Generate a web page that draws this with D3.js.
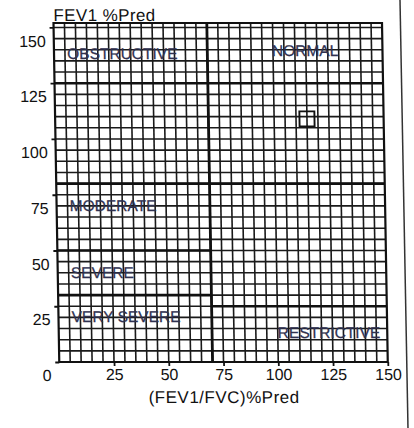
<!DOCTYPE html>
<html>
<head>
<meta charset="utf-8">
<script src="https://cdn.jsdelivr.net/npm/d3@7"></script>
<style>
  html, body { margin: 0; padding: 0; background: #fff; }
  svg { display: block; }
  text { font-family: "Liberation Sans", Arial, sans-serif; }
</style>
</head>
<body>
<svg id="chart" width="414" height="428"></svg>
<script>
// ---- data ----
const xTicks = [25, 50, 75, 100, 125, 150];
const yTicks = [0, 25, 50, 75, 100, 125, 150];
const xTitle = "(FEV1/FVC)%Pred";
const yTitle = "FEV1 %Pred";
const regionNames = ["OBSTRUCTIVE", "NORMAL", "MODERATE", "SEVERE", "VERY SEVERE", "RESTRICTIVE"];
const regionX = [6, 99.5, 6, 6, 6, 100];
const regionY = [136, 137, 67.5, 37.5, 18, 10.7];
const boundaryX = [70];
const boundaryY = [125, 80, 50, 30, 25];
const boundaryFrom = [0, 0, 0, 0, 70];
const boundaryTo = [150, 150, 70, 70, 150];
const pointX = [115];
const pointY = [109];

// ---- layout ----
const svg = d3.select("#chart");
const xMax = 150, yMax = 152;
const x = d3.scaleLinear().domain([0, 150]).range([53.5, 382]);
const y = d3.scaleLinear().domain([0, yMax]).range([362, 23]);
const skew = 0.017;
const g = svg.append("g")
  .attr("transform", `translate(${-skew * 23},0) skewX(${Math.atan(skew) * 180 / Math.PI})`);

const ink = "#1a1a1a";

// minor grid
const minorX = d3.range(5, xMax, 5);
const minorY = d3.range(5, 151, 5);
g.append("g").selectAll("line").data(minorX).join("line")
  .attr("x1", d => x(d)).attr("x2", d => x(d))
  .attr("y1", y(0)).attr("y2", y(yMax))
  .attr("stroke", ink).attr("stroke-width", 1.6);
g.append("g").selectAll("line").data(minorY).join("line")
  .attr("y1", d => y(d)).attr("y2", d => y(d))
  .attr("x1", x(0)).attr("x2", x(xMax))
  .attr("stroke", ink).attr("stroke-width", 1.6);

// boundaries
g.append("g").selectAll("line").data(boundaryX).join("line")
  .attr("x1", d => x(d)).attr("x2", d => x(d))
  .attr("y1", y(0)).attr("y2", y(yMax))
  .attr("stroke", "#111").attr("stroke-width", 2.8);
g.append("g").selectAll("line").data(boundaryY).join("line")
  .attr("y1", d => y(d)).attr("y2", d => y(d))
  .attr("x1", (d, i) => x(boundaryFrom[i])).attr("x2", (d, i) => x(boundaryTo[i]))
  .attr("stroke", "#111").attr("stroke-width", 2.6);

// border
g.append("rect")
  .attr("x", x(0)).attr("y", y(yMax))
  .attr("width", x(xMax) - x(0)).attr("height", y(0) - y(yMax))
  .attr("fill", "none").attr("stroke", "#111").attr("stroke-width", 2.2);

// axes
const ax = g.append("g").attr("transform", `translate(0,${y(0)})`)
  .call(d3.axisBottom(x).tickValues(xTicks).tickSize(4).tickFormat(d3.format("d")));
ax.select(".domain").remove();
ax.selectAll(".tick line").attr("stroke", "#111").attr("stroke-width", 1.8);
ax.selectAll(".tick text").attr("y", 7).attr("dy", "0.71em")
  .attr("font-size", 16).attr("fill", "#111")
  .style("font-family", "'Liberation Sans', Arial, sans-serif");

const ay = g.append("g").attr("transform", `translate(${x(0)},0)`)
  .call(d3.axisLeft(y).tickValues(yTicks).tickSize(4).tickFormat(d3.format("d")));
ay.select(".domain").remove();
ay.selectAll(".tick line").attr("stroke", "#111").attr("stroke-width", 1.8);
ay.selectAll(".tick text").attr("x", -8).attr("dy", "1.16em")
  .attr("font-size", 16).attr("fill", "#111")
  .style("font-family", "'Liberation Sans', Arial, sans-serif");

// region labels
g.append("g").selectAll("text").data(regionNames).join("text")
  .attr("x", (d, i) => x(regionX[i]))
  .attr("y", (d, i) => y(regionY[i]))
  .attr("font-size", 15.5)
  .attr("fill", "#2f3150")
  .attr("stroke", "#2f3150").attr("stroke-width", 0.25)
  .text(d => d);

// point marker
g.append("g").selectAll("rect").data(pointX).join("rect")
  .attr("x", (d, i) => x(d) - 7.5)
  .attr("y", (d, i) => y(pointY[i]) - 7.5)
  .attr("width", 15).attr("height", 15)
  .attr("fill", "none").attr("stroke", "#111").attr("stroke-width", 1.9);

// titles
g.append("text")
  .attr("x", x(0)).attr("y", 21)
  .attr("font-size", 17).attr("letter-spacing", 0.4).attr("fill", "#111")
  .text(yTitle);
g.append("text")
  .attr("x", (x(0) + x(xMax)) / 2).attr("y", 403)
  .attr("text-anchor", "middle")
  .attr("font-size", 17).attr("letter-spacing", 0.5).attr("fill", "#111")
  .text(xTitle);

// scanned page edge on the right
svg.append("line")
  .attr("x1", 400).attr("y1", 0).attr("x2", 408).attr("y2", 428)
  .attr("stroke", "#333").attr("stroke-width", 1.5);
</script>
</body>
</html>
